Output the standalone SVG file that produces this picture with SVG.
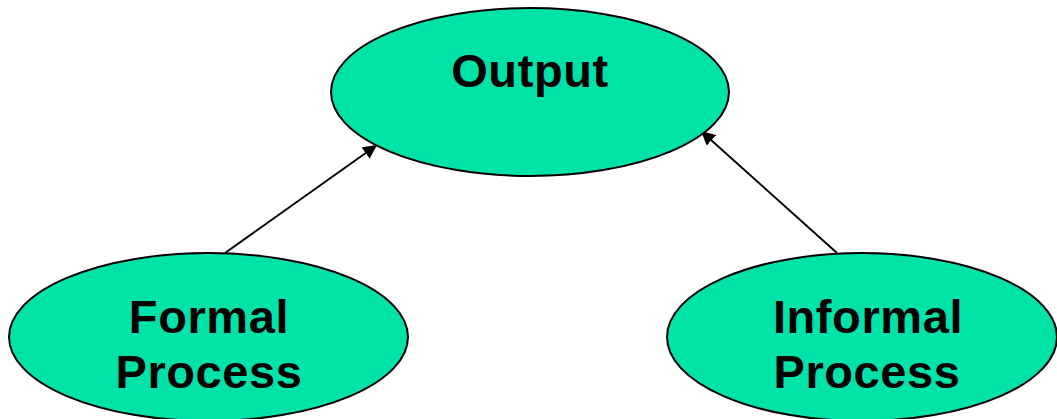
<svg xmlns="http://www.w3.org/2000/svg" width="1057" height="419" viewBox="0 0 1057 419">
  <style>
    .node { fill: #00e3a8; stroke: #000; stroke-width: 2; }
    .label { font-family: "Liberation Sans", Arial, sans-serif; font-weight: bold; font-size: 47px; letter-spacing: 0.6px; fill: #000; text-anchor: middle; }
    .edge { stroke: #000; stroke-width: 2; fill: none; marker-end: url(#arrow); }
  </style>
  <defs>
    <marker id="arrow" viewBox="0 0 10 10" refX="10" refY="5" markerWidth="7" markerHeight="7" markerUnits="strokeWidth" orient="auto">
      <path d="M0,0 L10,5 L0,10 z" fill="#000"/>
    </marker>
  </defs>
  <rect width="1057" height="419" fill="#fff"/>
  <g id="connectors">
    <line class="edge" x1="225" y1="253" x2="377" y2="145"/>
    <line class="edge" x1="837" y1="253" x2="701" y2="131"/>
  </g>
  <g id="output">
    <ellipse class="node" cx="530" cy="92" rx="199" ry="84"/>
    <text class="label" x="530" y="87">Output</text>
  </g>
  <g id="formal-process">
    <ellipse class="node" cx="208.5" cy="337" rx="199.5" ry="84"/>
    <text class="label" x="209" y="333">Formal</text>
    <text class="label" x="209" y="388">Process</text>
  </g>
  <g id="informal-process">
    <ellipse class="node" cx="862" cy="337" rx="195" ry="84"/>
    <text class="label" x="868" y="333">Informal</text>
    <text class="label" x="867" y="388">Process</text>
  </g>
</svg>
